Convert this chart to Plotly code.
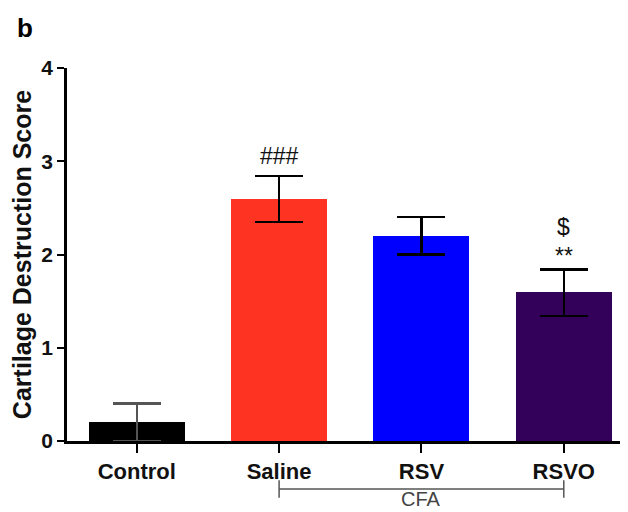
import plotly.graph_objects as go

categories = ["Control", "Saline", "RSV", "RSVO"]
means = [0.2, 2.6, 2.2, 1.6]
err_plus = [0.2, 0.24, 0.2, 0.24]
err_minus = [0.2, 0.25, 0.2, 0.26]
bar_colors = ["#000000", "#FF3322", "#0000FF", "#33005A"]
err_colors = ["#555555", "#000000", "#000000", "#000000"]
marks = [("Saline", 3.06, "###"), ("RSVO", 1.98, "**"), ("RSVO", 2.29, "$")]
group_label = "CFA"
group_span = ("Saline", "RSVO")

FONT = "Liberation Sans, Arial"

fig = go.Figure()
for i, c in enumerate(categories):
    fig.add_trace(go.Bar(
        x=[i], y=[means[i]], width=0.675,
        marker=dict(color=bar_colors[i], line=dict(width=0)),
        error_y=dict(type="data", array=[err_plus[i]], arrayminus=[err_minus[i]],
                     color=err_colors[i], thickness=2.5, width=24),
        showlegend=False,
    ))

for cat, yv, txt in marks:
    fig.add_annotation(x=categories.index(cat), y=yv, text=txt, showarrow=False,
                       font=dict(family=FONT, size=23, color="#111111"),
                       xref="x", yref="y")

x0 = categories.index(group_span[0])
x1 = categories.index(group_span[1])
line_style = dict(color="#555555", width=1.5)
fig.add_shape(type="line", xref="x", yref="paper", x0=x0, x1=x1, y0=-0.129, y1=-0.129, line=line_style)
fig.add_shape(type="line", xref="x", yref="paper", x0=x0, x1=x0, y0=-0.105, y1=-0.152, line=line_style)
fig.add_shape(type="line", xref="x", yref="paper", x0=x1, x1=x1, y0=-0.105, y1=-0.152, line=line_style)
fig.add_annotation(x=(x0 + x1) / 2, y=-0.156, xref="x", yref="paper", text=group_label,
                   showarrow=False, yanchor="middle",
                   font=dict(family=FONT, size=20, color="#444444"))

fig.add_annotation(xref="paper", yref="paper", x=-0.093, y=1.107, text="<b>b</b>",
                   showarrow=False, xanchor="left", yanchor="middle",
                   font=dict(family=FONT, size=26, color="#000000"))

fig.update_layout(
    width=620, height=504,
    margin=dict(l=59, r=3, t=60, b=71, autoexpand=False),
    paper_bgcolor="white", plot_bgcolor="white",
    font=dict(family=FONT, color="#000000"),
    xaxis=dict(range=[-0.49, 3.43], tickmode="array", tickvals=list(range(len(categories))),
               ticktext=["<b>%s</b>" % c for c in categories],
               tickfont=dict(size=22, color="#111111"),
               showline=True, linecolor="#000000", linewidth=2.5,
               ticks="outside", ticklen=9, tickwidth=2, tickcolor="#000000",
               showgrid=False, zeroline=False, automargin=False),
    yaxis=dict(range=[0, 4], tickvals=[0, 1, 2, 3, 4], ticktext=["<b>%d</b>" % v for v in range(5)],
               tickfont=dict(size=21, color="#111111"),
               showline=True, linecolor="#000000", linewidth=2.5,
               ticks="outside", ticklen=7, tickwidth=2, tickcolor="#000000",
               showgrid=False, zeroline=False, automargin=False,
               title=dict(text="<b>Cartilage Destruction Score</b>", font=dict(size=25, color="#111111"),
                          standoff=6)),
    bargap=0,
)

fig.write_html("out.html")
